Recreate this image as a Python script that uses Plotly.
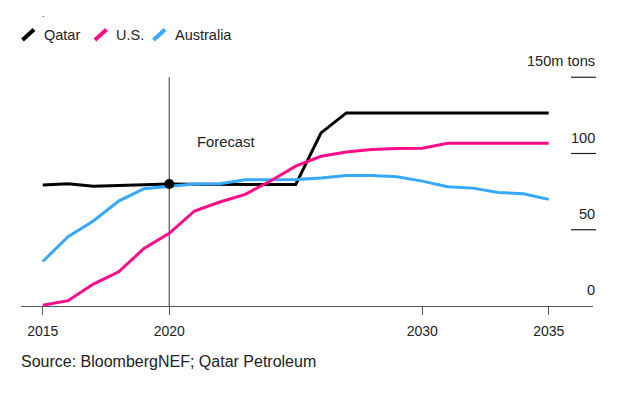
import plotly.graph_objects as go

years = list(range(2015, 2036))
qatar = [79.3, 80.2, 78.6, 79.0, 79.4, 80.0, 79.8, 79.7, 79.7, 79.7, 79.7,
         113.5, 126.6, 126.6, 126.6, 126.6, 126.6, 126.6, 126.6, 126.6, 126.6]
us = [0.5, 3.5, 14.4, 22.4, 37.7, 47.7, 62.3, 68.2, 73.2, 82.0, 91.7,
      98.2, 101.0, 102.6, 103.3, 103.5, 106.7, 106.7, 106.7, 106.7, 106.7]
australia = [29.2, 45.5, 55.8, 68.8, 76.9, 78.6, 80.0, 80.2, 82.8, 82.8, 83.0,
             83.9, 85.6, 85.6, 84.8, 81.9, 78.2, 77.3, 74.5, 73.6, 69.9]

x_tickvals = [2015, 2020, 2030, 2035]
x_ticktext = ["2015", "2020", "2030", "2035"]
y_tickvals = [0, 50, 100, 150]
y_ticktext = ["0", "50", "100", "150m tons"]
forecast_year = 2020
series_names = ["Qatar", "U.S.", "Australia"]
colors = ["#000000", "#ff0a8a", "#36a9ff"]

OFF = 8  # page body margin offset
W, H = 631 - OFF, 394 - OFF
ML, MT = 21 - OFF, 62 - OFF
PW = 593 - 21
PH = 306 - 62
MR = W - ML - PW
MB = H - MT - PH
FONT = "Liberation Sans, Arial, sans-serif"


def px_x(px):
    return (px - OFF - ML) / PW


def px_y(py):
    return (MT + PH - (py - OFF)) / PH


fig = go.Figure()
for name, vals, col in [("Qatar", qatar, colors[0]),
                        ("Australia", australia, colors[2]),
                        ("U.S.", us, colors[1])]:
    fig.add_trace(go.Scatter(x=years, y=vals, mode="lines", name=name,
                             line=dict(color=col, width=3), showlegend=False,
                             hoverinfo="skip"))

fi = years.index(forecast_year)
fig.add_trace(go.Scatter(x=[forecast_year], y=[qatar[fi]], mode="markers",
                         marker=dict(color="#000", size=10), showlegend=False))

shapes = []
shapes.append(dict(type="line", xref="x", yref="y", x0=forecast_year, x1=forecast_year,
                   y0=0, y1=y_tickvals[-1], line=dict(color="#555", width=1.2),
                   layer="below"))
for v in y_tickvals[1:]:
    shapes.append(dict(type="line", xref="paper", yref="y", x0=px_x(571), x1=px_x(596),
                       y0=v, y1=v, line=dict(color="#222", width=1.2)))

annotations = []
for v, t in zip(y_tickvals, y_ticktext):
    annotations.append(dict(xref="paper", yref="y", x=px_x(597), y=v, yshift=16,
                            text=t, showarrow=False, xanchor="right", yanchor="middle",
                            font=dict(family=FONT, size=14.6, color="#222")))

annotations.append(dict(xref="x", yref="paper", x=2021.0, y=px_y(142), text="Forecast",
                        showarrow=False, xanchor="left", yanchor="middle",
                        font=dict(family=FONT, size=14.8, color="#222")))

leg = [(22.5, 42), (95, 114), (153.5, 173)]
for (sx, tx), name, col in zip(leg, series_names, colors):
    shapes.append(dict(type="line", xref="paper", yref="paper",
                       x0=px_x(sx), y0=px_y(40), x1=px_x(sx + 11.5), y1=px_y(29.5),
                       line=dict(color=col, width=4)))
    annotations.append(dict(xref="paper", yref="paper", x=px_x(tx), y=px_y(34.5),
                            text=name, showarrow=False, xanchor="left", yanchor="middle",
                            font=dict(family=FONT, size=14.5, color="#222")))

annotations.append(dict(xref="paper", yref="paper", x=px_x(41), y=1 + MT / PH, text=".",
                        showarrow=False, xanchor="left", yanchor="top",
                        borderpad=0,
                        font=dict(family=FONT, size=9, color="#222")))

annotations.append(dict(xref="paper", yref="paper", x=px_x(19), y=px_y(361),
                        text="Source: BloombergNEF; Qatar Petroleum", showarrow=False,
                        xanchor="left", yanchor="middle",
                        font=dict(family=FONT, size=16, color="#222")))

fig.update_layout(
    width=W, height=H,
    margin=dict(l=ML, r=MR, t=MT, b=MB, pad=0),
    paper_bgcolor="white", plot_bgcolor="white",
    showlegend=False,
    shapes=shapes, annotations=annotations,
    xaxis=dict(range=[2014.14, 2036.75], tickvals=x_tickvals, ticktext=x_ticktext,
               showgrid=False, zeroline=False, showline=True, linecolor="#555",
               linewidth=1.2, ticks="outside", ticklen=8, tickcolor="#555", tickwidth=1.2,
               ticklabelstandoff=4,
               tickfont=dict(family=FONT, size=14, color="#222")),
    yaxis=dict(range=[0, 160], showgrid=False, zeroline=False, showticklabels=False,
               showline=False),
)

fig.write_html("out.html")
